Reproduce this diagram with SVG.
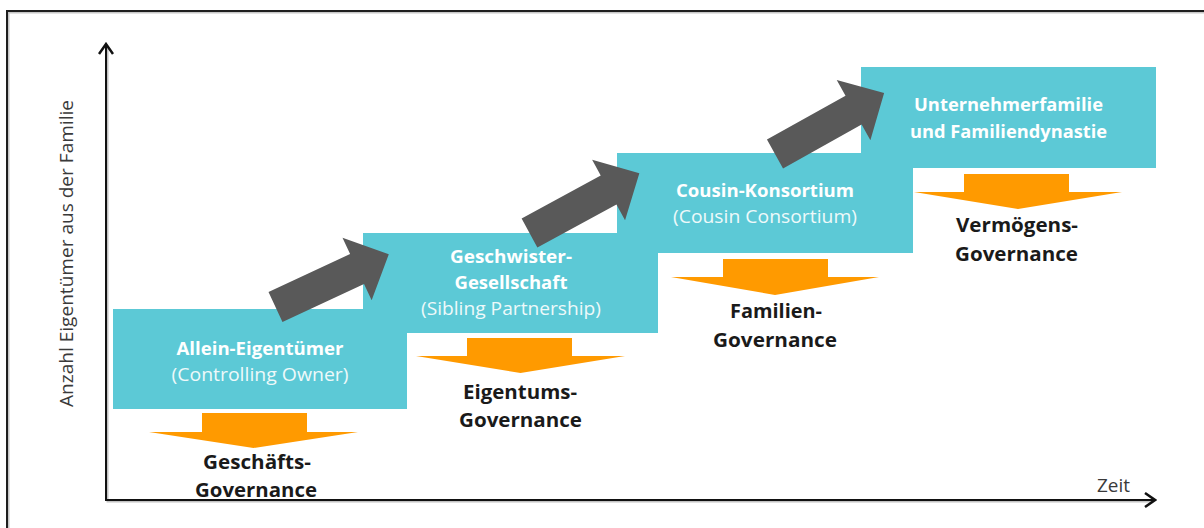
<svg xmlns="http://www.w3.org/2000/svg" width="1204" height="528" viewBox="0 0 1204 528">
  <defs>
    <style>
      .stage { fill: #5CC9D6; }
      .title { font-family: "Open Sans", Lato, "Liberation Sans", sans-serif; font-weight: 700; font-size: 18.5px; fill: #FFFFFF; text-anchor: middle; }
      .sub { font-family: "Open Sans", Lato, "Liberation Sans", sans-serif; font-weight: 400; font-size: 17.5px; fill: #EEF9FA; text-anchor: middle; }
      .gov { fill: #FF9A00; }
      .govtext { font-family: "Open Sans", Lato, "Liberation Sans", sans-serif; font-weight: 700; font-size: 20px; fill: #1A1A1A; text-anchor: middle; }
      .step { fill: #595959; }
      .axis { stroke: #111111; stroke-width: 2; fill: none; }
      .axis-shadow { stroke: #9A9A9A; stroke-width: 2; fill: none; opacity: 0.6; }
      .axlabel { font-family: "Open Sans", Lato, "Liberation Sans", sans-serif; font-weight: 400; font-size: 17.5px; fill: #3A3A3A; }
    </style>
    <marker id="axhead" viewBox="0 0 14 16" refX="12" refY="8" markerWidth="14" markerHeight="16" orient="auto" markerUnits="userSpaceOnUse">
      <path d="M2,1 L12,8 L2,15" fill="none" stroke="#111111" stroke-width="2.5"/>
    </marker>
    <polygon id="stepArrow" points="0,-16.5 90,-16.5 90,-34.5 125,0 90,34.5 90,16.5 0,16.5"/>
  </defs>

  <rect width="1204" height="528" fill="#FFFFFF"/>

  <!-- outer frame -->
  <rect x="8.5" y="12.5" width="1220" height="540" fill="none" stroke="#A0A0A0" stroke-width="2" opacity="0.6"/>
  <rect x="7" y="11" width="1220" height="540" fill="none" stroke="#1E1E1E" stroke-width="2"/>

  <!-- axes -->
  <g id="axes">
    <polyline class="axis-shadow" points="107.5,46 107.5,501.5 1153,501.5"/>
    <line class="axis" x1="106" y1="500" x2="106" y2="44" marker-end="url(#axhead)"/>
    <line class="axis" x1="105" y1="500" x2="1155" y2="500" marker-end="url(#axhead)"/>
    <text class="axlabel" transform="translate(73,253.5) rotate(-90)" text-anchor="middle" textLength="307" lengthAdjust="spacingAndGlyphs">Anzahl Eigentümer aus der Familie</text>
    <text class="axlabel" x="1097" y="492" textLength="33" lengthAdjust="spacingAndGlyphs">Zeit</text>
  </g>

  <!-- ownership stages -->
  <g id="stage-allein">
    <rect class="stage" x="113" y="309" width="294" height="100"/>
    <text class="title" x="260" y="355" textLength="167" lengthAdjust="spacingAndGlyphs">Allein-Eigentümer</text>
    <text class="sub" x="260" y="381" textLength="177" lengthAdjust="spacingAndGlyphs">(Controlling Owner)</text>
  </g>
  <g id="stage-geschwister">
    <rect class="stage" x="363" y="233" width="295" height="100"/>
    <text class="title" x="511" y="263" textLength="122" lengthAdjust="spacingAndGlyphs">Geschwister-</text>
    <text class="title" x="511" y="289" textLength="113" lengthAdjust="spacingAndGlyphs">Gesellschaft</text>
    <text class="sub" x="511" y="315" textLength="180" lengthAdjust="spacingAndGlyphs">(Sibling Partnership)</text>
  </g>
  <g id="stage-cousin">
    <rect class="stage" x="617" y="153" width="296" height="100"/>
    <text class="title" x="765" y="197" textLength="178" lengthAdjust="spacingAndGlyphs">Cousin-Konsortium</text>
    <text class="sub" x="765" y="223" textLength="184" lengthAdjust="spacingAndGlyphs">(Cousin Consortium)</text>
  </g>
  <g id="stage-dynastie">
    <rect class="stage" x="861" y="67" width="295" height="101"/>
    <text class="title" x="1008.5" y="111" textLength="189" lengthAdjust="spacingAndGlyphs">Unternehmerfamilie</text>
    <text class="title" x="1008.5" y="138" textLength="197" lengthAdjust="spacingAndGlyphs">und Familiendynastie</text>
  </g>

  <!-- governance outcomes -->
  <g id="gov-geschaefts">
    <polygon class="gov" points="202,413 307,413 307,432 358,432 253.5,448 149,432 202,432"/>
    <text class="govtext" x="257" y="469" textLength="108" lengthAdjust="spacingAndGlyphs">Geschäfts-</text>
    <text class="govtext" x="256" y="497" textLength="122" lengthAdjust="spacingAndGlyphs">Governance</text>
  </g>
  <g id="gov-eigentums">
    <polygon class="gov" points="467,338 572,338 572,356 625,356 520.5,373 416,356 467,356"/>
    <text class="govtext" x="520" y="399" textLength="114" lengthAdjust="spacingAndGlyphs">Eigentums-</text>
    <text class="govtext" x="520.5" y="427" textLength="123" lengthAdjust="spacingAndGlyphs">Governance</text>
  </g>
  <g id="gov-familien">
    <polygon class="gov" points="723,259 828,259 828,277 879,277 775,295 671,277 723,277"/>
    <text class="govtext" x="776" y="318" textLength="92" lengthAdjust="spacingAndGlyphs">Familien-</text>
    <text class="govtext" x="775" y="347" textLength="124" lengthAdjust="spacingAndGlyphs">Governance</text>
  </g>
  <g id="gov-vermoegens">
    <polygon class="gov" points="964,174 1069,174 1069,192 1122,192 1018,209 914,192 964,192"/>
    <text class="govtext" x="1017" y="232" textLength="122" lengthAdjust="spacingAndGlyphs">Vermögens-</text>
    <text class="govtext" x="1016.5" y="261" textLength="123" lengthAdjust="spacingAndGlyphs">Governance</text>
  </g>

  <!-- transitions between stages -->
  <g id="connectors">
    <use href="#stepArrow" class="step" transform="translate(275.5,307) rotate(-25)"/>
    <use href="#stepArrow" class="step" transform="translate(529.5,233) rotate(-28.5)"/>
    <use href="#stepArrow" class="step" transform="translate(775,154) rotate(-29.2)"/>
  </g>
</svg>
